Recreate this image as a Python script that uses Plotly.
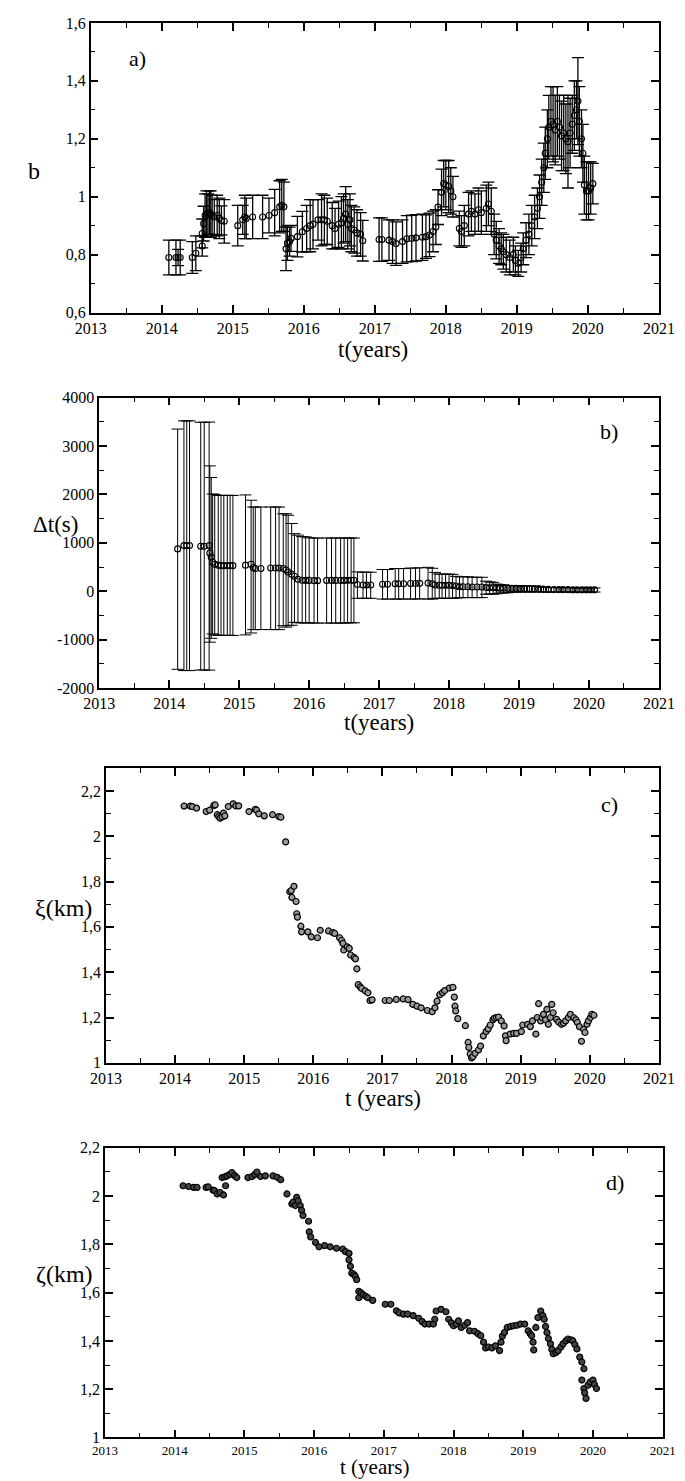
import plotly.graph_objects as go

# ---------------- data ----------------
# panel a) : b parameter
A_T = [2014.10, 2014.20, 2014.23, 2014.26, 2014.43, 2014.48, 2014.57, 2014.57, 2014.59, 2014.61,
       2014.63, 2014.65, 2014.67, 2014.69, 2014.71, 2014.74, 2014.78, 2014.81, 2014.84, 2014.88,
       2015.07, 2015.14, 2015.17, 2015.19, 2015.28, 2015.42, 2015.51, 2015.59, 2015.66, 2015.69,
       2015.72, 2015.75, 2015.77, 2015.80, 2015.82, 2015.91, 2015.98, 2016.04, 2016.09, 2016.13,
       2016.20, 2016.25, 2016.29, 2016.33, 2016.40, 2016.44, 2016.49, 2016.53, 2016.56, 2016.59,
       2016.62, 2016.65, 2016.67, 2016.71, 2016.75, 2016.80, 2016.83,
       2017.06, 2017.10, 2017.20, 2017.25, 2017.30, 2017.39, 2017.45, 2017.52, 2017.58, 2017.67,
       2017.72, 2017.77, 2017.82, 2017.86, 2017.89, 2017.94, 2017.97, 2018.00, 2018.04, 2018.07,
       2018.10, 2018.19, 2018.22, 2018.26, 2018.32, 2018.36, 2018.41, 2018.46, 2018.50, 2018.57,
       2018.60, 2018.64, 2018.68, 2018.71, 2018.75, 2018.78, 2018.81, 2018.85, 2018.90, 2018.95,
       2018.98, 2019.02, 2019.06, 2019.09, 2019.13, 2019.17, 2019.21, 2019.25, 2019.29, 2019.32,
       2019.35, 2019.38, 2019.40, 2019.43, 2019.45, 2019.48, 2019.51, 2019.54, 2019.57, 2019.60,
       2019.63, 2019.66, 2019.69, 2019.72, 2019.75, 2019.78, 2019.81, 2019.84, 2019.86, 2019.88,
       2019.91, 2019.93, 2019.95, 2019.98, 2020.01, 2020.04, 2020.07]
A_B = [0.79, 0.79, 0.79, 0.79, 0.79, 0.805, 0.83, 0.873, 0.907, 0.935,
       0.94, 0.94, 0.945, 0.94, 0.935, 0.93, 0.935, 0.925, 0.918, 0.915,
       0.90, 0.92, 0.93, 0.925, 0.93, 0.93, 0.935, 0.945, 0.965, 0.97,
       0.965, 0.82, 0.84, 0.845, 0.856, 0.862, 0.879, 0.89, 0.90, 0.905,
       0.92, 0.92, 0.92, 0.915, 0.90, 0.89, 0.905, 0.91, 0.925, 0.94,
       0.905, 0.92, 0.89, 0.885, 0.875, 0.87, 0.848,
       0.852, 0.852, 0.85, 0.845, 0.838, 0.845, 0.855, 0.856, 0.858, 0.86,
       0.862, 0.868, 0.88, 0.895, 0.964, 1.015, 1.045, 1.04, 1.035, 1.02,
       1.00, 0.89, 0.88, 0.90, 0.94, 0.95, 0.94, 0.955, 0.945, 0.96,
       0.975, 0.95, 0.87, 0.85, 0.83, 0.82, 0.81, 0.80, 0.79, 0.80,
       0.78, 0.77, 0.79, 0.82, 0.85, 0.87, 0.90, 0.93, 0.96, 1.00,
       1.05, 1.10, 1.15, 1.20, 1.24, 1.26, 1.25, 1.23, 1.26, 1.24,
       1.21, 1.22, 1.20, 1.19, 1.22, 1.25, 1.28, 1.30, 1.33, 1.26,
       1.20, 1.15, 1.04, 1.02, 1.02, 1.03, 1.045]
A_ERR = [0.06, 0.06, 0.028, 0.06, 0.055, 0.06, 0.035, 0.05, 0.06, 0.075,
         0.08, 0.07, 0.075, 0.08, 0.07, 0.06, 0.07, 0.07, 0.05, 0.075,
         0.07, 0.05, 0.075, 0.07, 0.075, 0.075, 0.06, 0.08, 0.09, 0.09,
         0.085, 0.075, 0.06, 0.05, 0.045, 0.07, 0.07, 0.08, 0.09, 0.085,
         0.07, 0.09, 0.085, 0.08, 0.08, 0.07, 0.08, 0.09, 0.085, 0.095,
         0.085, 0.09, 0.08, 0.08, 0.08, 0.075, 0.07,
         0.075, 0.075, 0.07, 0.075, 0.075, 0.075, 0.08, 0.08, 0.08, 0.08,
         0.075, 0.075, 0.07, 0.06, 0.06, 0.08, 0.08, 0.085, 0.09, 0.08,
         0.07, 0.06, 0.055, 0.07, 0.075, 0.07, 0.07, 0.075, 0.075, 0.08,
         0.075, 0.08, 0.07, 0.065, 0.06, 0.055, 0.06, 0.06, 0.06, 0.06,
         0.05, 0.045, 0.05, 0.055, 0.06, 0.07, 0.07, 0.075, 0.07, 0.075,
         0.08, 0.085, 0.09, 0.10, 0.11, 0.12, 0.13, 0.12, 0.12, 0.11,
         0.12, 0.13, 0.12, 0.16, 0.12, 0.10, 0.12, 0.10, 0.15, 0.12,
         0.10, 0.10, 0.10, 0.10, 0.10, 0.09, 0.07]

# panel b) : time shift Delta t (s), asymmetric errors
B_T = [2014.12, 2014.21, 2014.25, 2014.29, 2014.45, 2014.50, 2014.57, 2014.58, 2014.60, 2014.62,
       2014.65, 2014.70, 2014.74, 2014.78, 2014.83, 2014.87, 2014.91, 2015.09, 2015.17, 2015.20,
       2015.23, 2015.31, 2015.45, 2015.52, 2015.57, 2015.63, 2015.67, 2015.70, 2015.75, 2015.79,
       2015.84, 2015.90, 2015.95, 2016.00, 2016.07, 2016.12, 2016.25, 2016.32, 2016.38, 2016.45,
       2016.50, 2016.55, 2016.60, 2016.64, 2016.69, 2016.77, 2016.82, 2016.88, 2017.05, 2017.12,
       2017.23, 2017.28, 2017.35, 2017.45, 2017.52, 2017.58, 2017.70, 2017.76, 2017.80, 2017.86,
       2017.90, 2017.95, 2018.00, 2018.05, 2018.10, 2018.15, 2018.20, 2018.27, 2018.33, 2018.40,
       2018.47, 2018.53, 2018.58, 2018.63, 2018.68, 2018.73, 2018.78, 2018.84, 2018.90, 2018.96,
       2019.02, 2019.08, 2019.15, 2019.22, 2019.28, 2019.35, 2019.42, 2019.50, 2019.57, 2019.63,
       2019.70, 2019.77, 2019.83, 2019.90, 2019.96, 2020.02, 2020.08]
B_DT = [876, 944, 944, 944, 930, 930, 944, 790, 710, 600,
        560, 540, 530, 530, 530, 530, 530, 540, 560, 490,
        470, 470, 480, 480, 480, 470, 440, 400, 350, 310,
        250, 230, 225, 225, 220, 220, 225, 225, 225, 225,
        225, 230, 230, 230, 140, 130, 130, 130, 145, 145,
        155, 155, 155, 160, 160, 165, 170, 155, 130, 125,
        125, 125, 125, 120, 110, 95, 95, 95, 90, 90,
        90, 80, 75, 75, 70, 65, 65, 60, 60, 60,
        55, 55, 55, 50, 50, 40, 40, 35, 35, 35,
        35, 30, 30, 30, 30, 30, 30]
B_PLUS = [2474, 2575, 2575, 2575, 2560, 2560, 2550, 1800, 1640, 1410,
          1440, 1440, 1450, 1450, 1450, 1450, 1450, 1450, 1320, 1250,
          1270, 1270, 1260, 1260, 1260, 1130, 1160, 1170, 1050, 880,
          910, 900, 900, 880, 880, 880, 875, 875, 875, 875,
          875, 870, 870, 870, 260, 265, 265, 265, 305, 305,
          315, 315, 315, 320, 320, 320, 325, 320, 260, 230,
          230, 230, 230, 230, 200, 205, 205, 205, 200, 200,
          200, 130, 120, 110, 80, 70, 70, 60, 60, 55,
          55, 55, 55, 55, 55, 40, 40, 40, 40, 40,
          40, 40, 40, 40, 40, 40, 40]
B_MINUS = [2486, 2580, 2580, 2580, 2555, 2555, 2570, 1840, 1680, 1480,
           1460, 1450, 1440, 1440, 1440, 1440, 1440, 1440, 1420, 1280,
           1260, 1260, 1270, 1270, 1270, 1180, 1180, 1110, 1050, 950,
           900, 880, 880, 875, 875, 875, 880, 880, 880, 880,
           880, 880, 880, 880, 285, 275, 275, 275, 305, 305,
           315, 315, 315, 320, 320, 320, 330, 315, 275, 270,
           270, 270, 270, 265, 250, 225, 225, 225, 220, 220,
           220, 140, 130, 135, 120, 100, 100, 90, 80, 75,
           70, 70, 70, 65, 60, 55, 55, 50, 50, 50,
           50, 45, 45, 45, 45, 45, 45]
B_TICKVALS = [-2000, -1000, 0, 1000, 2000, 3000, 4000]
B_TICKTEXT = ["-2000", "-1000", "0", "1000", "2000", "3000", "4000"]

# panel c) : xi (km)
C_T = [2014.13, 2014.22, 2014.25, 2014.31, 2014.45, 2014.50, 2014.56, 2014.58, 2014.61, 2014.63,
       2014.65, 2014.68, 2014.70, 2014.72, 2014.77, 2014.84, 2014.88, 2014.92, 2015.07, 2015.16,
       2015.18, 2015.21, 2015.29, 2015.41, 2015.50, 2015.53, 2015.60, 2015.66, 2015.68, 2015.69,
       2015.72, 2015.75, 2015.76, 2015.77, 2015.82, 2015.83, 2015.92, 2015.97, 2016.06, 2016.10,
       2016.22, 2016.28, 2016.31, 2016.38, 2016.41, 2016.43, 2016.44, 2016.49, 2016.52, 2016.54,
       2016.59, 2016.61, 2016.63, 2016.65, 2016.68, 2016.70, 2016.75, 2016.79, 2016.82, 2016.85,
       2017.04, 2017.10, 2017.20, 2017.30, 2017.37, 2017.44, 2017.50, 2017.56, 2017.65, 2017.72,
       2017.76, 2017.79, 2017.83, 2017.87, 2017.90, 2017.97, 2018.02, 2018.04, 2018.05, 2018.06,
       2018.09, 2018.20, 2018.24, 2018.25, 2018.27, 2018.29, 2018.31, 2018.34, 2018.39, 2018.42,
       2018.46, 2018.50, 2018.53, 2018.56, 2018.60, 2018.62, 2018.65, 2018.68, 2018.72, 2018.76,
       2018.78, 2018.79, 2018.85, 2018.90, 2018.94, 2019.01, 2019.03, 2019.10, 2019.14, 2019.17,
       2019.22, 2019.24, 2019.26, 2019.29, 2019.31, 2019.33, 2019.36, 2019.38, 2019.40, 2019.43,
       2019.45, 2019.47, 2019.52, 2019.55, 2019.59, 2019.62, 2019.65, 2019.69, 2019.72, 2019.77,
       2019.80, 2019.82, 2019.85, 2019.88, 2019.91, 2019.93, 2019.96, 2019.98, 2020.01, 2020.03,
       2020.06]
C_XI = [2.133, 2.133, 2.131, 2.124, 2.109, 2.115, 2.136, 2.138, 2.095, 2.087,
        2.080, 2.085, 2.102, 2.090, 2.131, 2.143, 2.134, 2.134, 2.109, 2.119,
        2.115, 2.099, 2.090, 2.095, 2.087, 2.084, 1.975, 1.755, 1.760, 1.730,
        1.779, 1.712, 1.658, 1.643, 1.603, 1.578, 1.578, 1.556, 1.552, 1.585,
        1.582, 1.575, 1.571, 1.552, 1.540, 1.527, 1.498, 1.512, 1.505, 1.476,
        1.465, 1.459, 1.415, 1.345, 1.335, 1.328, 1.318, 1.309, 1.275, 1.278,
        1.275, 1.275, 1.280, 1.282, 1.279, 1.258, 1.250, 1.243, 1.231, 1.226,
        1.243, 1.272, 1.301, 1.310, 1.319, 1.330, 1.333, 1.290, 1.250, 1.229,
        1.195, 1.164, 1.090, 1.068, 1.039, 1.022, 1.028, 1.042, 1.057, 1.074,
        1.119, 1.138, 1.150, 1.167, 1.190, 1.197, 1.200, 1.202, 1.185, 1.163,
        1.119, 1.098, 1.127, 1.130, 1.130, 1.138, 1.167, 1.170, 1.160, 1.185,
        1.127, 1.200, 1.261, 1.185, 1.200, 1.214, 1.190, 1.236, 1.170, 1.200,
        1.258, 1.221, 1.192, 1.180, 1.170, 1.175, 1.185, 1.200, 1.214, 1.199,
        1.190, 1.178, 1.160, 1.095, 1.148, 1.134, 1.170, 1.185, 1.200, 1.214,
        1.210]
C_ERR = 0.008

# panel d) : zeta (km)
D_T = [2014.12, 2014.20, 2014.27, 2014.32, 2014.45, 2014.48, 2014.55, 2014.57, 2014.61, 2014.65,
       2014.70, 2014.73, 2014.68, 2014.72, 2014.75, 2014.79, 2014.82, 2014.86, 2014.89, 2015.05,
       2015.11, 2015.15, 2015.18, 2015.23, 2015.30, 2015.41, 2015.47, 2015.52, 2015.61, 2015.68,
       2015.70, 2015.73, 2015.75, 2015.77, 2015.80, 2015.82, 2015.84, 2015.92, 2015.93, 2015.95,
       2016.02, 2016.07, 2016.15, 2016.23, 2016.32, 2016.41, 2016.45, 2016.50, 2016.50, 2016.52,
       2016.54, 2016.57, 2016.59, 2016.61, 2016.64, 2016.64, 2016.67, 2016.70, 2016.74, 2016.77,
       2016.84, 2017.02, 2017.10, 2017.18, 2017.22, 2017.28, 2017.34, 2017.42, 2017.50, 2017.55,
       2017.59, 2017.65, 2017.71, 2017.73, 2017.75, 2017.82, 2017.89, 2017.93, 2017.97, 2018.00,
       2018.04, 2018.07, 2018.11, 2018.16, 2018.20, 2018.23, 2018.30, 2018.35, 2018.39, 2018.43,
       2018.46, 2018.50, 2018.55, 2018.60, 2018.66, 2018.68, 2018.70, 2018.73, 2018.77, 2018.82,
       2018.86, 2018.91, 2018.96, 2019.02, 2019.07, 2019.10, 2019.12, 2019.14, 2019.15, 2019.18,
       2019.21, 2019.25, 2019.28, 2019.30, 2019.32, 2019.34, 2019.36, 2019.39, 2019.41, 2019.43,
       2019.47, 2019.50, 2019.54, 2019.57, 2019.61, 2019.64, 2019.68, 2019.71, 2019.74, 2019.77,
       2019.81, 2019.84, 2019.87, 2019.84, 2019.87, 2019.88, 2019.90, 2019.93, 2019.96, 2020.00,
       2020.02, 2020.05]
D_ZETA = [2.043, 2.040, 2.036, 2.036, 2.036, 2.038, 2.025, 2.023, 2.009, 2.015,
          2.005, 2.043, 2.077, 2.080, 2.084, 2.090, 2.098, 2.085, 2.077, 2.077,
          2.081, 2.090, 2.100, 2.081, 2.084, 2.084, 2.078, 2.068, 2.009, 1.968,
          1.975, 1.961, 1.995, 1.980, 1.961, 1.941, 1.920, 1.896, 1.852, 1.831,
          1.808, 1.790, 1.795, 1.790, 1.784, 1.781, 1.770, 1.763, 1.736, 1.709,
          1.681, 1.675, 1.668, 1.654, 1.606, 1.579, 1.600, 1.592, 1.585, 1.579,
          1.568, 1.552, 1.552, 1.525, 1.516, 1.511, 1.511, 1.505, 1.494, 1.480,
          1.470, 1.470, 1.470, 1.490, 1.524, 1.531, 1.521, 1.490, 1.475, 1.463,
          1.470, 1.483, 1.456, 1.465, 1.476, 1.442, 1.440, 1.430, 1.422, 1.395,
          1.371, 1.375, 1.371, 1.380, 1.360, 1.395, 1.420, 1.435, 1.456, 1.460,
          1.463, 1.465, 1.470, 1.470, 1.442, 1.430, 1.422, 1.395, 1.363, 1.456,
          1.497, 1.524, 1.505, 1.490, 1.460, 1.435, 1.410, 1.388, 1.365, 1.347,
          1.352, 1.360, 1.375, 1.388, 1.400, 1.408, 1.405, 1.401, 1.385, 1.367,
          1.333, 1.313, 1.285, 1.238, 1.203, 1.185, 1.162, 1.217, 1.230, 1.238,
          1.220, 1.203]
D_ERR = 0.016

X_TITLES = ["t(years)", "t(years)", "t (years)", "t (years)"]
Y_TITLES = ["b", "Δt(s)", "ξ(km)", "ζ(km)"]
PANEL_TAGS = ["a)", "b)", "c)", "d)"]

# ---------------- figure ----------------
W, H = 685, 1481
FONT = "Liberation Serif"


def px(x):
    return x / W


def py(y):
    return 1 - y / H


fig = go.Figure()

open_marker = dict(symbol="circle-open", size=6, color="black", line=dict(width=1.1, color="black"))

fig.add_trace(go.Scatter(
    x=A_T, y=A_B, mode="markers", marker=open_marker, xaxis="x", yaxis="y",
    error_y=dict(type="data", array=A_ERR, color="black", thickness=1.3, width=6),
    showlegend=False))

fig.add_trace(go.Scatter(
    x=B_T, y=B_DT, mode="markers", marker=open_marker, xaxis="x2", yaxis="y2",
    error_y=dict(type="data", symmetric=False, array=B_PLUS, arrayminus=B_MINUS,
                 color="black", thickness=1.0, width=6),
    showlegend=False))

fig.add_trace(go.Scatter(
    x=C_T, y=C_XI, mode="markers",
    marker=dict(symbol="circle", size=6, color="#9a9a9a", line=dict(width=1.2, color="black")),
    xaxis="x3", yaxis="y3",
    error_y=dict(type="data", value=C_ERR, color="black", thickness=1.6, width=8),
    showlegend=False))

fig.add_trace(go.Scatter(
    x=D_T, y=D_ZETA, mode="markers",
    marker=dict(symbol="circle", size=6, color="#444444", line=dict(width=1.2, color="black")),
    xaxis="x4", yaxis="y4",
    error_y=dict(type="data", value=D_ERR, color="black", thickness=2.0, width=7),
    showlegend=False))


def xax(domain, anchor, fsize=16):
    return dict(domain=domain, anchor=anchor, range=[2013, 2021], tick0=2013, dtick=1,
                ticks="inside", ticklen=8, tickwidth=1.5, tickcolor="black",
                showline=True, linewidth=1.5, linecolor="black", mirror="ticks",
                showgrid=False, zeroline=False,
                tickfont=dict(family=FONT, size=fsize, color="black"),
                minor=dict(dtick=0.5, ticks="inside", ticklen=5, tickwidth=1.2,
                           tickcolor="black", showgrid=False))


def yax(domain, anchor, rng, dtick, mdtick, tick0):
    return dict(domain=domain, anchor=anchor, range=rng, tick0=tick0, dtick=dtick,
                ticks="inside", ticklen=8, tickwidth=1.5, tickcolor="black",
                showline=True, linewidth=1.5, linecolor="black", mirror="ticks",
                showgrid=False, zeroline=False,
                tickfont=dict(family=FONT, size=16, color="black"),
                minor=dict(dtick=mdtick, ticks="inside", ticklen=5, tickwidth=1.2,
                           tickcolor="black", showgrid=False))


yaxis2 = yax([py(680), py(386)], "x2", [-2000, 4000], 1000, 500, -2000)
yaxis2.update(tickmode="array", tickvals=B_TICKVALS, ticktext=B_TICKTEXT)

fig.update_layout(
    width=W, height=H, margin=dict(l=0, r=0, t=0, b=0),
    paper_bgcolor="white", plot_bgcolor="white",
    separators=",.",
    font=dict(family=FONT, color="black", size=16),
    xaxis=xax([px(70), px(666)], "y"),
    yaxis=yax([py(300), py(7)], "x", [0.6, 1.6], 0.2, 0.1, 0.6),
    xaxis2=xax([px(79), px(666)], "y2"),
    yaxis2=yaxis2,
    xaxis3=xax([px(86), px(666)], "y3"),
    yaxis3=yax([py(1059), py(761)], "x3", [1, 2.3], 0.2, 0.1, 1),
    xaxis4=xax([px(85), px(670)], "y4", fsize=13),
    yaxis4=yax([py(1438), py(1145)], "x4", [1, 2.2], 0.2, 0.1, 1),
)

ann = []
xt_pos = [(366, 337), (372, 715), (377, 1095), (368, 1468)]
xt_size = [23, 23, 23, 21]
yt_pos = [(11, 157), (33, 514), (41, 902), (43, 1273)]
yt_size = [24, 23, 24, 24]
tag_pos = [(119, 43), (614, 420), (614, 798), (620, 1180)]
for i in range(4):
    ann.append(dict(text=X_TITLES[i], x=px(xt_pos[i][0]), y=py(xt_pos[i][1]), xref="paper", yref="paper",
                    xanchor="center", yanchor="middle", showarrow=False,
                    font=dict(family=FONT, size=xt_size[i], color="black")))
    ann.append(dict(text=Y_TITLES[i], x=px(yt_pos[i][0]), y=py(yt_pos[i][1]), xref="paper", yref="paper",
                    xanchor="center", yanchor="middle", showarrow=False,
                    font=dict(family=FONT, size=yt_size[i], color="black")))
    ann.append(dict(text=PANEL_TAGS[i], x=px(tag_pos[i][0]), y=py(tag_pos[i][1]), xref="paper", yref="paper",
                    xanchor="center", yanchor="middle", showarrow=False,
                    font=dict(family=FONT, size=22, color="black")))
fig.update_layout(annotations=ann)

fig.write_html("out.html", config={"displayModeBar": False})
